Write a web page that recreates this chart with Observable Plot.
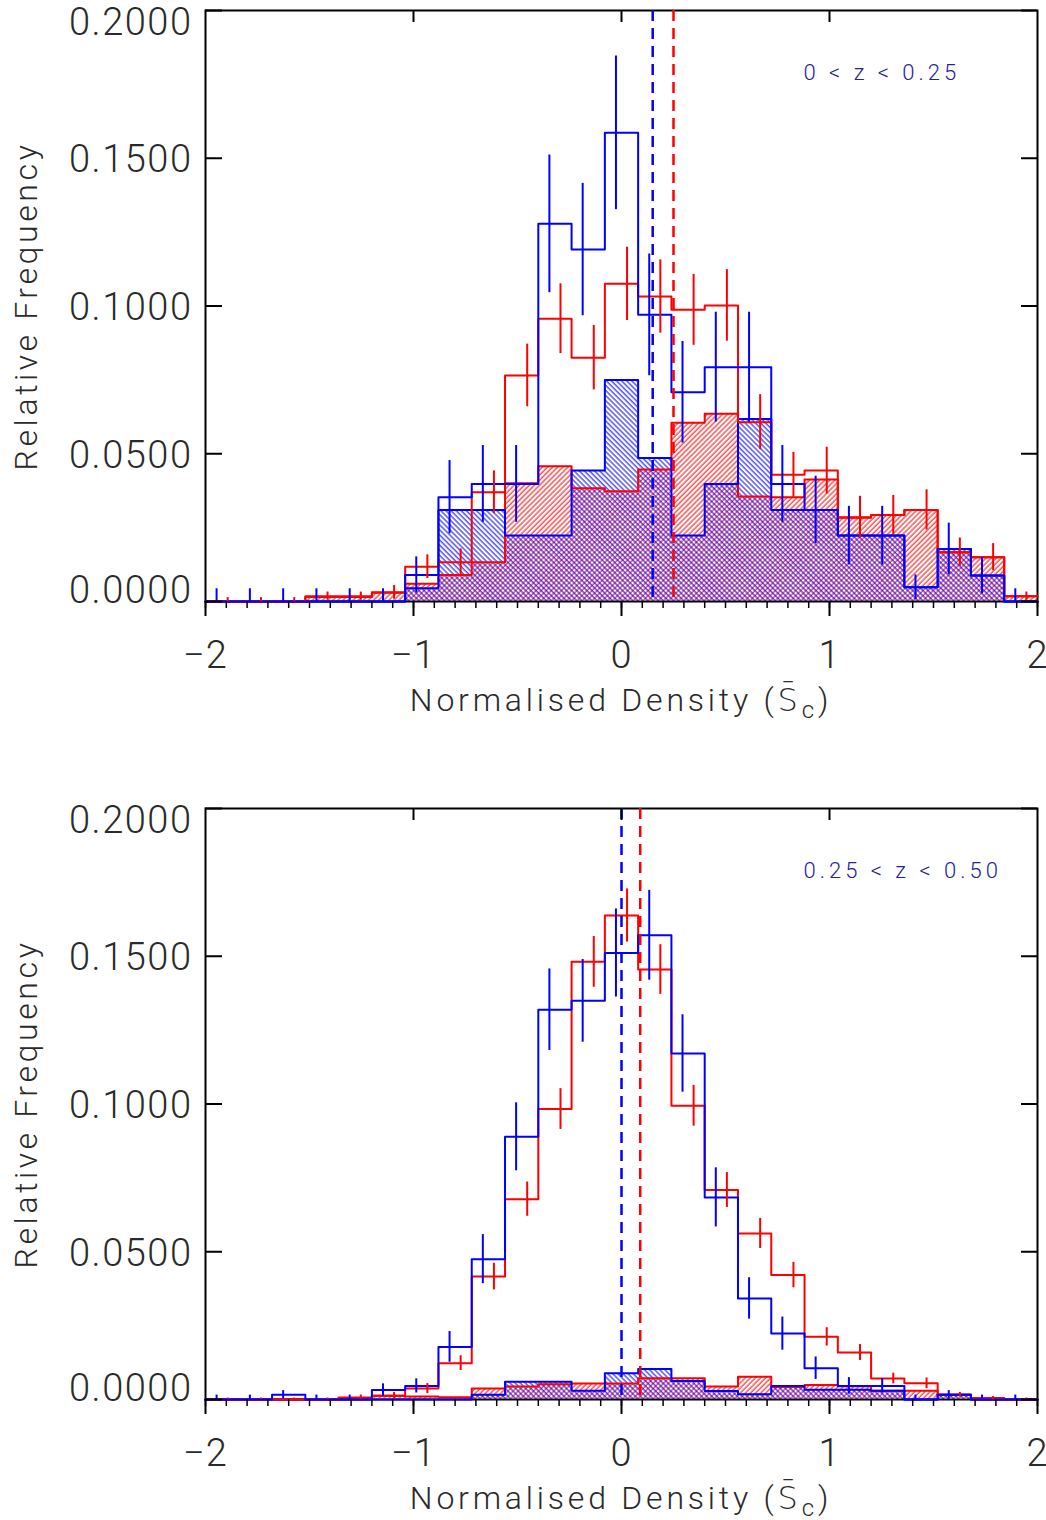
<!DOCTYPE html>
<html>
<head>
<meta charset="utf-8">
<script src="https://cdn.jsdelivr.net/npm/d3@7"></script>
<script src="https://cdn.jsdelivr.net/npm/@observablehq/plot@0.6"></script>
<style>
  body { margin: 0; background: #fff; }
  #chart svg { display: block; }
</style>
</head>
<body>
<svg width="0" height="0" style="position:absolute">
  <defs>
    <pattern id="hatchRed" patternUnits="userSpaceOnUse" width="3.6" height="3.6" patternTransform="rotate(45)">
      <line x1="1" y1="-1" x2="1" y2="5" stroke="#ff0000" stroke-width="1"></line>
    </pattern>
    <pattern id="hatchBlue" patternUnits="userSpaceOnUse" width="3.6" height="3.6" patternTransform="rotate(-45)">
      <line x1="1" y1="-1" x2="1" y2="5" stroke="#0000ff" stroke-width="1"></line>
    </pattern>
  </defs>
</svg>
<div id="chart"></div>
<script>
// ---------- data ----------
const binLeft = [-2, -1.84, -1.68, -1.52, -1.36, -1.2, -1.04, -0.88, -0.72, -0.56, -0.4, -0.24, -0.08,
                 0.08, 0.24, 0.4, 0.56, 0.72, 0.88, 1.04, 1.2, 1.36, 1.52, 1.68, 1.84];
const binEnd = 2;

// Panel 1: 0 < z < 0.25
const red1 = [0, 0, 0, 0.0018, 0.0018, 0.0031, 0.0118, 0.0133, 0.0370, 0.0765, 0.0957, 0.0825, 0.1075,
              0.1032, 0.0987, 0.1002, 0.0607, 0.0429, 0.0443, 0.0285, 0.0293, 0.0310, 0.0167, 0.0150, 0.0018];
const blue1 = [0, 0, 0, 0, 0, 0, 0.0090, 0.0353, 0.0398, 0.0398, 0.1278, 0.1191, 0.1586,
               0.0970, 0.0708, 0.0793, 0.0793, 0.0398, 0.0310, 0.0223, 0.0223, 0.0048, 0.0178, 0.0088, 0];
const redHatch1 = [0, 0, 0, 0.0015, 0.0015, 0.0030, 0.0060, 0.0090, 0.0133, 0.0400, 0.0458, 0.0383, 0.0373,
                   0.0447, 0.0605, 0.0635, 0.0355, 0.0353, 0.0413, 0.0283, 0.0293, 0.0310, 0.0167, 0.0150, 0.0018];
const blueHatch1 = [0, 0, 0, 0, 0, 0, 0.0045, 0.0310, 0.0310, 0.0223, 0.0223, 0.0443, 0.0750,
                    0.0486, 0.0223, 0.0398, 0.0618, 0.0310, 0.0310, 0.0223, 0.0223, 0.0048, 0.0178, 0.0088, 0];
const redErr1 = [0.0013, 0.0013, 0.0013, 0.0014, 0.0014, 0.0023, 0.0040, 0.0045, 0.0072, 0.0106, 0.0118, 0.0109, 0.0124,
                 0.0124, 0.0120, 0.0121, 0.0093, 0.0076, 0.0079, 0.0071, 0.0066, 0.0068, 0.0048, 0.0046, 0.0014];
const blueErr1 = [0.0043, 0.0043, 0.0043, 0.0043, 0.0043, 0.0043, 0.0061, 0.0124, 0.0130, 0.0130, 0.0233, 0.0224, 0.0260,
                  0.0206, 0.0172, 0.0186, 0.0186, 0.0130, 0.0114, 0.0099, 0.0099, 0.0042, 0.0087, 0.0062, 0.0043];
const meanRed1 = 0.25;
const meanBlue1 = 0.15;
const zLabel1 = "0 < z < 0.25";

// Panel 2: 0.25 < z < 0.50
const red2 = [0, 0, 0, 0, 0.0007, 0.0013, 0.0037, 0.0123, 0.0416, 0.0678, 0.0983, 0.1481, 0.1638,
              0.1455, 0.0994, 0.0709, 0.0562, 0.0421, 0.0212, 0.0159, 0.0071, 0.0055, 0.0016, 0.0005, 0];
const blue2 = [0, 0, 0.0016, 0, 0, 0.0032, 0.0046, 0.0178, 0.0475, 0.0889, 0.1319, 0.1349, 0.1511,
               0.1571, 0.1171, 0.0684, 0.0342, 0.0223, 0.0106, 0.0046, 0.0046, 0, 0.0016, 0, 0];
const redHatch2 = [0, 0, 0, 0, 0.0005, 0.0013, 0.0010, 0.0008, 0.0037, 0.0044, 0.0052, 0.0054, 0.0054,
                   0.0072, 0.0072, 0.0044, 0.0077, 0.0042, 0.0049, 0.0045, 0.0030, 0.0030, 0.0016, 0, 0];
const blueHatch2 = [0, 0, 0, 0, 0, 0, 0, 0, 0.0016, 0.0060, 0.0060, 0.0030, 0.0089,
                    0.0103, 0.0063, 0.0029, 0.0018, 0.0046, 0.0033, 0.0033, 0.0030, 0, 0.0016, 0, 0];
const redErr2 = [0.0005, 0.0005, 0.0005, 0.0005, 0.0008, 0.0011, 0.0017, 0.0025, 0.0045, 0.0058, 0.0069, 0.0086, 0.0090,
                 0.0084, 0.0069, 0.0059, 0.0051, 0.0043, 0.0031, 0.0027, 0.0018, 0.0018, 0.0008, 0.0005, 0.0005];
const blueErr2 = [0.0015, 0.0015, 0.0014, 0.0015, 0.0015, 0.0021, 0.0024, 0.0052, 0.0083, 0.0115, 0.0138, 0.0140, 0.0149,
                  0.0152, 0.0131, 0.0100, 0.0070, 0.0056, 0.0038, 0.0028, 0.0024, 0.0015, 0.0014, 0.0015, 0.0015];
const meanRed2 = 0.09;
const meanBlue2 = 0.0;
const zLabel2 = "0.25 < z < 0.50";

// ticks and titles
const yTicks = [0, 0.05, 0.10, 0.15, 0.20];
const xMajor = [-2, -1, 0, 1, 2];
const xTop = [-1, 0, 1];
const yTitle = "Relative Frequency";

// ---------- drawing ----------
const RED = "#ff0000", BLUE = "#0000ff";
const W = 1046, ML = 205, MR = 9, MT = 10, FH = 591;
const FW = W - ML - MR;
const bw = binLeft[1] - binLeft[0];
const FONT = "Roboto, 'DejaVu Sans', sans-serif";
const TXT = "#2a2a2a";

const steps = vals => binLeft.map((x, i) => ({x, y: vals[i]})).concat([{x: binEnd, y: vals[vals.length - 1]}]);
const rows = (vals, errs) => binLeft.map((x0, i) => ({x0, v: vals[i], e: errs[i]}));

function panel(p) {
  const H = MT + FH + p.mb;
  const xMinor = d3.range(-2, 2.0001, 0.1).map(d => +d.toFixed(2));
  const ytl = {y: d => d, text: d => d.toFixed(4), frameAnchor: "left", dx: -13, textAnchor: "end", lineAnchor: "middle",
               fontSize: 38, fontWeight: 300, fill: TXT};
  const svg = Plot.plot({
    width: W, height: H,
    marginLeft: ML, marginRight: MR, marginTop: MT, marginBottom: p.mb,
    x: {domain: [-2, 2], axis: null},
    y: {domain: [0, 0.2], axis: null},
    style: {fontFamily: FONT, background: "#fff", overflow: "visible"},
    marks: [
      Plot.frame({stroke: "#000", strokeWidth: 2}),
      Plot.areaY(steps(p.redH), {x: "x", y: "y", curve: "step-after", fill: "url(#hatchRed)"}),
      Plot.areaY(steps(p.blueH), {x: "x", y: "y", curve: "step-after", fill: "url(#hatchBlue)"}),
      Plot.line(steps(p.redH), {x: "x", y: "y", curve: "step-after", stroke: RED, strokeWidth: 2}),
      Plot.line(steps(p.blueH), {x: "x", y: "y", curve: "step-after", stroke: BLUE, strokeWidth: 2}),
      Plot.line(steps(p.red), {x: "x", y: "y", curve: "step-after", stroke: RED, strokeWidth: 2}),
      Plot.line(steps(p.blue), {x: "x", y: "y", curve: "step-after", stroke: BLUE, strokeWidth: 2}),
      Plot.ruleX(rows(p.red, p.redErr), {x: d => d.x0 + 2 * bw / 3, y1: d => Math.max(0, d.v - d.e), y2: d => d.v + d.e, stroke: RED, strokeWidth: 2}),
      Plot.ruleX(rows(p.blue, p.blueErr), {x: d => d.x0 + bw / 3, y1: d => Math.max(0, d.v - d.e), y2: d => d.v + d.e, stroke: BLUE, strokeWidth: 2}),
      Plot.ruleX([p.meanBlue], {x: d => d, stroke: BLUE, strokeWidth: 2.5, strokeDasharray: "11,7"}),
      Plot.ruleX([p.meanRed], {x: d => d, stroke: RED, strokeWidth: 2.5, strokeDasharray: "11,7"}),
      // ticks
      Plot.tickY(yTicks, {y: d => d, insetRight: FW - 17, stroke: "#000", strokeWidth: 2}),
      Plot.tickY(yTicks, {y: d => d, insetLeft: FW - 16, stroke: "#000", strokeWidth: 2}),
      Plot.tickX(xTop, {x: d => d, insetBottom: FH - 12, stroke: "#000", strokeWidth: 2}),
      Plot.tickX(xMajor, {x: d => d, insetTop: FH, insetBottom: -15, stroke: "#000", strokeWidth: 2}),
      Plot.tickX(xMinor, {x: d => d, insetTop: FH, insetBottom: -7, stroke: "#000", strokeWidth: 1.5}),
      // tick labels
      Plot.text(yTicks.slice(1, -1), {...ytl, dy: 2}),
      Plot.text(yTicks.slice(-1), {...ytl, dy: 12}),
      Plot.text(yTicks.slice(0, 1), {...ytl, dy: -11}),
      Plot.text(xMajor, {x: d => d, text: d => (d < 0 ? "\u2212" + Math.abs(d) : String(d)), frameAnchor: "bottom",
        lineAnchor: "middle", dy: 54, fontSize: 38, fontWeight: 300, fill: TXT}),
      Plot.text([yTitle], {text: d => d, frameAnchor: "left", textAnchor: "middle", lineAnchor: "middle",
        dx: -179, rotate: -90, fontSize: 32, fontWeight: 300, fill: TXT}),
      Plot.text([p.zLabel], {text: d => d, x: 0.875, y: 0.179, textAnchor: "start", lineAnchor: "middle",
        fontSize: 22, fontWeight: 300, fill: "#22229a"})
    ]
  });
  // letter spacing to mimic the wide vector font
  d3.select(svg).selectAll("text").each(function () {
    const s = this.textContent;
    let ls = null;
    if (/^\d\.\d{4}$/.test(s)) ls = "1.5px";
    else if (s === yTitle) ls = "3.6px";
    else if (s === p.zLabel) ls = "4px";
    else if (/^\u2212?\d$/.test(s)) ls = "1px";
    if (ls) this.style.letterSpacing = ls;
  });
  // x-axis title with overlined S and subscript c
  const xs = svg.scale("x");
  const t = d3.select(svg).append("text")
    .attr("x", xs.apply(0))
    .attr("y", MT + FH + 110)
    .attr("text-anchor", "middle")
    .attr("font-family", FONT)
    .attr("font-size", 32)
    .attr("font-weight", 300)
    .attr("fill", TXT)
    .style("letter-spacing", "3.8px");
  t.append("tspan").text("Normalised Density (S\u0304");
  t.append("tspan").attr("font-size", 24).attr("dy", 7).text("c");
  t.append("tspan").attr("dy", -7).text(")");
  return svg;
}

const chart = document.getElementById("chart");
chart.appendChild(panel({red: red1, blue: blue1, redH: redHatch1, blueH: blueHatch1, redErr: redErr1, blueErr: blueErr1,
  meanRed: meanRed1, meanBlue: meanBlue1, zLabel: zLabel1, mb: 197}));
chart.appendChild(panel({red: red2, blue: blue2, redH: redHatch2, blueH: blueHatch2, redErr: redErr2, blueErr: blueErr2,
  meanRed: meanRed2, meanBlue: meanBlue2, zLabel: zLabel2, mb: 121}));
</script>
</body>
</html>
